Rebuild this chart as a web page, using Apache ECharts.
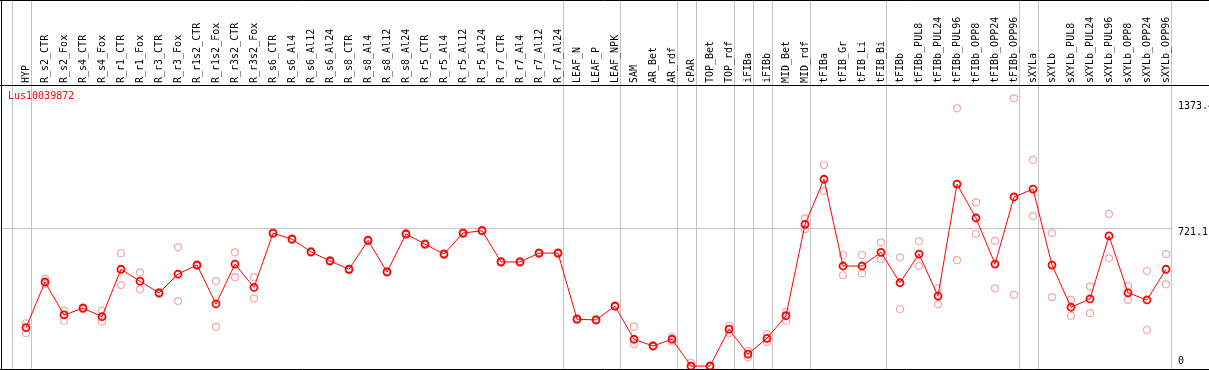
<!DOCTYPE html>
<html><head><meta charset="utf-8">
<script src="https://cdn.jsdelivr.net/npm/echarts@6/dist/echarts.min.js"></script>
<style>html,body{margin:0;padding:0;background:#fff}#c{width:1209px;height:370px}</style>
</head><body><div id="c"></div>
<script>
const chartTitle = 'Lus10039872';
const categories = ['HYP','R_s2_CTR','R_s2_Fox','R_s4_CTR','R_s4_Fox','R_r1_CTR','R_r1_Fox','R_r3_CTR','R_r3_Fox','R_r1s2_CTR','R_r1s2_Fox','R_r3s2_CTR','R_r3s2_Fox','R_s6_CTR','R_s6_Al4','R_s6_Al12','R_s6_Al24','R_s8_CTR','R_s8_Al4','R_s8_Al12','R_s8_Al24','R_r5_CTR','R_r5_Al4','R_r5_Al12','R_r5_Al24','R_r7_CTR','R_r7_Al4','R_r7_Al12','R_r7_Al24','LEAF_N','LEAF_P','LEAF_NPK','SAM','AR_Bet','AR_rdf','cPAR','TOP_Bet','TOP_rdf','iFIBa','iFIBb','MID_Bet','MID_rdf','tFIBa','tFIB_Gr','tFIB_Li','tFIB_Bi','tFIBb','tFIBb_PUL8','tFIBb_PUL24','tFIBb_PUL96','tFIBb_OPP8','tFIBb_OPP24','tFIBb_OPP96','sXYLa','sXYLb','sXYLb_PUL8','sXYLb_PUL24','sXYLb_PUL96','sXYLb_OPP8','sXYLb_OPP24','sXYLb_OPP96'];
const means = [204,441,270,305,261,507,445,384,482,529,327,534,413,694,663,597,550,507,657,493,690,637,586,695,707,545,545,591,591,248,244,316,144,109,144,5,5,196,67,149,266,740,974,524,524,595,437,586,368,949,773,534,882,923,529,310,353,680,385,348,507];
const repA = [227,457,292,310,292,590,491,388,621,533,446,595,465,698,667,601,554,511,661,497,694,641,590,699,711,549,549,595,595,252,248,320,209,112,157,22,8,214,50,171,285,771,1048,581,581,647,569,652,408,1342,854,654,1394,1074,695,348,417,794,420,498,586];
const repB = [175,431,240,300,235,425,403,380,342,525,208,465,356,690,659,593,546,503,653,489,686,633,582,691,703,541,541,587,587,244,240,312,118,106,131,0,2,175,84,130,240,714,913,476,486,559,301,524,325,554,690,408,374,783,362,266,279,564,348,192,429];
const groupEnds = [-1,0,28,31,34,35,37,38,39,41,45,52,53,60];
const yMax = 1442.2;
const midValue = 721.1;
const yLabelValues = [1373.4, 721.1, 0];
const yLabelTexts = ['1373.4', '721.1', '0'];

const FONT = 'DejaVu Sans Mono';
const chart = echarts.init(document.getElementById('c'), null, {renderer: 'canvas'});
const repData = [];
categories.forEach((c, i) => { repData.push([i, repA[i]]); repData.push([i, repB[i]]); });

chart.setOption({
  animation: false,
  backgroundColor: '#fff',
  title: {text: chartTitle, left: 8, top: 91, padding: 0,
    textStyle: {color: '#ff0000', fontFamily: FONT, fontSize: 10, fontWeight: 'normal'}},
  grid: {left: 16.5, width: 1159, top: 89, height: 278},
  xAxis: {type: 'category', data: categories, position: 'top', boundaryGap: true,
    axisLine: {show: false}, axisTick: {show: false}, splitLine: {show: false},
    axisLabel: {rotate: 90, interval: 0, margin: 6, color: '#000', fontFamily: FONT, fontSize: 10}},
  yAxis: {type: 'value', min: 0, max: yMax, show: false},
  series: [
    {type: 'scatter', data: repData, symbol: 'circle', symbolSize: 7, z: 3,
      itemStyle: {color: 'rgba(0,0,0,0)', borderColor: '#ec9494', borderWidth: 1.2}},
    {type: 'line', data: means, symbol: 'circle', symbolSize: 7, z: 4, showSymbol: true,
      lineStyle: {color: '#ff0000', width: 1},
      itemStyle: {color: 'rgba(0,0,0,0)', borderColor: '#ff0000', borderWidth: 1.8}}
  ]
});

function px(v) { return chart.convertToPixel({yAxisIndex: 0}, v); }
function cx(i) { return chart.convertToPixel({xAxisIndex: 0}, i); }
const step = cx(1) - cx(0);
const g = [];
groupEnds.forEach(i => {
  const x = Math.round(cx(0) + i * step + step * 0.25) + 0.5;
  g.push({type: 'line', z: 0, shape: {x1: x, y1: 0, x2: x, y2: 370}, style: {stroke: '#c4c4c4', lineWidth: 1}});
});
const lastLine = Math.round(cx(0) + 60 * step + step * 0.25) + 0.5;
const my = Math.round(px(midValue)) + 0.5;
g.push({type: 'line', z: 0, shape: {x1: 1, y1: my, x2: lastLine, y2: my}, style: {stroke: '#c4c4c4', lineWidth: 1}});
// frame
[[0, 0.5, 1209, 0.5], [0, 85.5, 1209, 85.5], [0, 369.5, 1209, 369.5], [1.5, 0, 1.5, 370]].forEach(s => {
  g.push({type: 'line', z: 10, shape: {x1: s[0], y1: s[1], x2: s[2], y2: s[3]}, style: {stroke: '#000', lineWidth: 1}});
});
yLabelValues.forEach((v, k) => {
  const y = px(v);
  g.push({type: 'text', z: 10, x: 1178, y: v === 0 ? y - 1 : y - 1,
    style: {text: yLabelTexts[k], fill: '#000', font: '10px "' + FONT + '"',
      verticalAlign: v === 0 ? 'bottom' : 'top', align: 'left'}});
});
chart.setOption({graphic: g});
</script>
</body></html>
